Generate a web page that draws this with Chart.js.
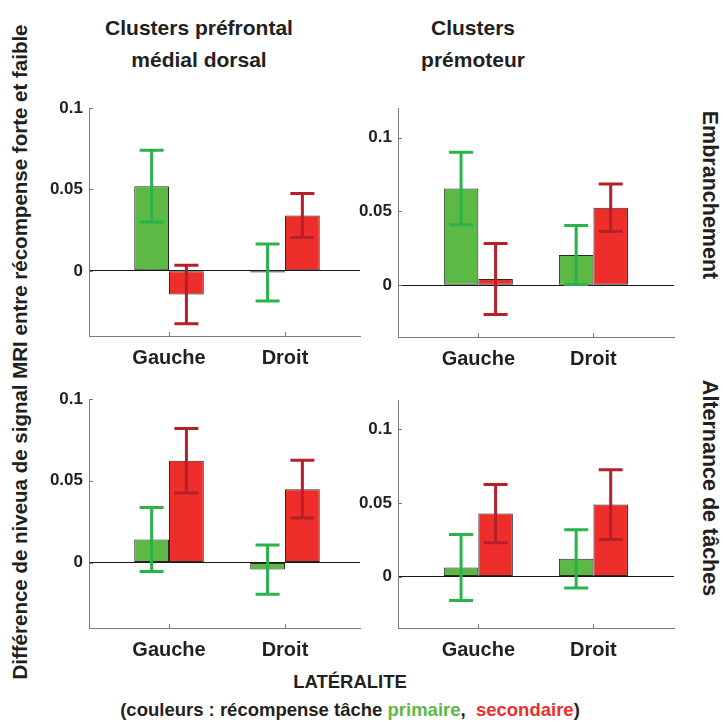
<!DOCTYPE html>
<html>
<head>
<meta charset="utf-8">
<script src="https://cdn.jsdelivr.net/npm/chart.js@4.4.1/dist/chart.umd.min.js"></script>
<style>
  html, body { margin: 0; padding: 0; background: #fff; }
  body { width: 723px; height: 722px; position: relative; overflow: hidden;
         font-family: "Liberation Sans", Arial, Helvetica, sans-serif; font-weight: bold; color: #231f20; }
  canvas { position: absolute; }
  .t { position: absolute; white-space: nowrap; text-align: center; }
</style>
</head>
<body>
<div class="t" style="left:199px; top:12px; transform:translateX(-50%); font-size:21px; line-height:32px;">Clusters préfrontal<br>médial dorsal</div>
<div class="t" style="left:473px; top:12px; transform:translateX(-50%); font-size:21px; line-height:32px;">Clusters<br>prémoteur</div>
<div class="t" style="left:709px; top:195px; transform:translate(-50%,-50%) rotate(90deg); font-size:21.5px;">Embranchement</div>
<div class="t" style="left:709px; top:488px; transform:translate(-50%,-50%) rotate(90deg); font-size:21.5px;">Alternance de tâches</div>
<div class="t" style="left:20px; top:352px; transform:translate(-50%,-50%) rotate(-90deg); font-size:20.5px;">Différence de niveua de signal MRI entre récompense forte et faible</div>
<div class="t" style="left:350px; top:682px; transform:translate(-50%,-50%); font-size:18.5px;">LATÉRALITE</div>
<div class="t" style="left:350px; top:710px; transform:translate(-50%,-50%); font-size:18.5px;">(couleurs : récompense tâche <span style="color:#5cb946">primaire</span>, &nbsp;<span style="color:#ee2e2a">secondaire</span>)</div>

<canvas id="c1" width="340" height="280" style="left:30px; top:90px;"></canvas>
<canvas id="c2" width="345" height="281" style="left:339px; top:90px;"></canvas>
<canvas id="c3" width="340" height="281" style="left:30px; top:381px;"></canvas>
<canvas id="c4" width="345" height="280" style="left:339px; top:382px;"></canvas>

<script>
// ---------- DATA ----------
const categories = ['Gauche', 'Droit'];
const yTicks = [0, 0.05, 0.1];

// Embranchement – clusters préfrontal médial dorsal
const primEmbPref = [0.052, -0.001];
const primEmbPrefErr = [0.022, 0.0175];
const secEmbPref = [-0.0145, 0.034];
const secEmbPrefErr = [0.018, 0.0135];

// Embranchement – clusters prémoteur
const primEmbPrem = [0.0655, 0.0205];
const primEmbPremErr = [0.0245, 0.020];
const secEmbPrem = [0.0043, 0.0525];
const secEmbPremErr = [0.024, 0.016];

// Alternance de tâches – clusters préfrontal médial dorsal
const primAltPref = [0.0141, -0.0043];
const primAltPrefErr = [0.0196, 0.015];
const secAltPref = [0.0622, 0.0449];
const secAltPrefErr = [0.0197, 0.0177];

// Alternance de tâches – clusters prémoteur
const primAltPrem = [0.0061, 0.012];
const primAltPremErr = [0.0224, 0.0198];
const secAltPrem = [0.0428, 0.0489];
const secAltPremErr = [0.0198, 0.0237];

// ---------- STYLE ----------
const GREEN = '#5cb946', RED = '#ee2e2a';
const GREEN_ERR = '#2bb34b', RED_ERR = '#b5202a';
const AXIS = '#7a7a7a';
const FONT = '"Liberation Sans", Arial, Helvetica, sans-serif';

const errorBarPlugin = {
  id: 'errorBars',
  afterDatasetsDraw(chart) {
    const ctx = chart.ctx, ys = chart.scales.y;
    chart.data.datasets.forEach((ds, di) => {
      const meta = chart.getDatasetMeta(di);
      meta.data.forEach((bar, i) => {
        const v = ds.data[i].y, e = ds.errors[i];
        const yTop = ys.getPixelForValue(v + e), yBot = ys.getPixelForValue(v - e);
        const x = bar.x, half = 12;
        ctx.save();
        ctx.strokeStyle = ds.errorColor;
        ctx.lineWidth = 3;
        ctx.beginPath();
        ctx.moveTo(x, yTop); ctx.lineTo(x, yBot);
        ctx.moveTo(x - half, yTop); ctx.lineTo(x + half, yTop);
        ctx.moveTo(x - half, yBot); ctx.lineTo(x + half, yBot);
        ctx.stroke();
        ctx.restore();
      });
    });
  }
};

const innerTicksPlugin = {
  id: 'innerTicks',
  afterDraw(chart) {
    const ctx = chart.ctx, a = chart.chartArea, xs = chart.scales.x, ys = chart.scales.y;
    ctx.save();
    ctx.strokeStyle = AXIS; ctx.lineWidth = 1;
    ctx.beginPath();
    ys.ticks.forEach(t => { const y = Math.round(ys.getPixelForValue(t.value)) + 0.5; ctx.moveTo(a.left, y); ctx.lineTo(a.left + 4, y); });
    xs.ticks.forEach(t => { const x = Math.round(xs.getPixelForValue(t.value)) + 0.5; ctx.moveTo(x, a.bottom); ctx.lineTo(x, a.bottom - 4); });
    ctx.stroke();
    ctx.restore();
  }
};

function makePanel(id, prim, primErr, sec, secErr, yMin, yMax, xMin, xMax, padTop) {
  const toPts = arr => arr.map((v, i) => ({ x: i + 1, y: v }));
  new Chart(document.getElementById(id), {
    type: 'bar',
    data: {
      datasets: [
        { data: toPts(prim), errors: primErr, errorColor: GREEN_ERR, backgroundColor: GREEN,
          borderColor: '#2a2a2a', borderWidth: 1, borderSkipped: false },
        { data: toPts(sec), errors: secErr, errorColor: RED_ERR, backgroundColor: RED,
          borderColor: '#2a2a2a', borderWidth: 1, borderSkipped: false }
      ]
    },
    options: {
      responsive: false, animation: false, devicePixelRatio: 1,
      categoryPercentage: 0.6, barPercentage: 1.0,
      layout: { padding: { top: padTop, right: 10, bottom: 0, left: 0 } },
      plugins: { legend: { display: false }, tooltip: { enabled: false }, title: { display: false } },
      scales: {
        x: {
          type: 'linear', min: xMin, max: xMax, offset: false,
          afterBuildTicks: s => { s.ticks = categories.map((c, i) => ({ value: i + 1 })); },
          afterFit: s => { s.height = 34; },
          ticks: { callback: (v) => categories[Math.round(v) - 1], padding: 2,
                   font: { family: FONT, size: 20, weight: 'bold' }, color: '#231f20', maxRotation: 0 },
          grid: { display: false },
          border: { display: true, color: AXIS, width: 1 }
        },
        y: {
          min: yMin, max: yMax,
          afterBuildTicks: s => { s.ticks = yTicks.map(v => ({ value: v })); },
          afterFit: s => { s.width = 59; },
          ticks: { callback: v => String(v), padding: 6,
                   font: { family: FONT, size: 17, weight: 'bold' }, color: '#231f20' },
          grid: { drawTicks: false, color: c => (c.tick && c.tick.value === 0) ? '#1a1a1a' : 'rgba(0,0,0,0)', lineWidth: 1 },
          border: { display: true, color: AXIS, width: 1 }
        }
      }
    },
    plugins: [errorBarPlugin, innerTicksPlugin]
  });
}

makePanel('c1', primEmbPref, primEmbPrefErr, secEmbPref, secEmbPrefErr, -0.04, 0.1, 0.31, 2.647, 18);
makePanel('c2', primEmbPrem, primEmbPremErr, secEmbPrem, secEmbPremErr, -0.035, 0.12, 0.302, 2.70, 18);
makePanel('c3', primAltPref, primAltPrefErr, secAltPref, secAltPrefErr, -0.04, 0.1, 0.31, 2.647, 18);
makePanel('c4', primAltPrem, primAltPremErr, secAltPrem, secAltPremErr, -0.035, 0.12, 0.302, 2.70, 18);
</script>
</body>
</html>
